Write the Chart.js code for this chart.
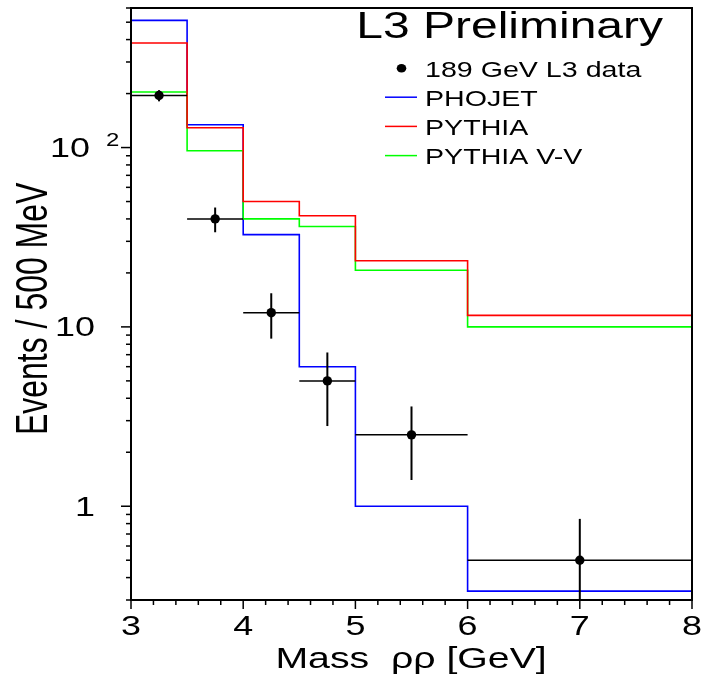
<!DOCTYPE html>
<html><head><meta charset="utf-8">
<script src="https://cdn.jsdelivr.net/npm/chart.js@4.4.0/dist/chart.umd.min.js"></script>
<style>html,body{margin:0;padding:0;background:#fff;} canvas{display:block;}</style>
</head><body>
<canvas id="c" width="701" height="680"></canvas>
<script>
// ---- data ----
const binEdges = [3, 3.5, 4, 4.5, 5, 6, 8];
const phojet   = [512, 134, 32.7, 6.0, 1.0, 0.336];
const pythia   = [383, 129, 50, 41.7, 23.4, 11.6];
const pythiaVV = [204, 96, 40, 36.3, 20.7, 10.0];
const dataX    = [3.25, 3.75, 4.25, 4.75, 5.5, 7];
const dataY    = [195, 40, 12, 5, 2.5, 0.5];
const dataErr  = [14, 6.3, 3.4, 2.2, 1.1, 0.35];
const dataLow  = [3, 3.5, 4, 4.5, 5, 6];
const dataHigh = [3.5, 4, 4.5, 5, 6, 8];
const xTickValues = [3, 4, 5, 6, 7, 8];
const xTickLabels = ['3', '4', '5', '6', '7', '8'];
const yTickValues = [1, 10, 100];
const yTickLabels = ['1', '10', '10^2'];
const seriesNames = ['189 GeV L3 data', 'PHOJET', 'PYTHIA', 'PYTHIA V-V'];
const titleText = 'L3 Preliminary';
const xTitle = 'Mass  ρρ [GeV]';
const yTitle = 'Events / 500 MeV';

const FONT = '"Liberation Sans", Arial, sans-serif';
const BLUE = '#0000ff', RED = '#ff0000', GREEN = '#00ff00';

function steps(vals) {
  const pts = vals.map((v, i) => ({x: binEdges[i], y: v}));
  pts.push({x: binEdges[binEdges.length - 1], y: vals[vals.length - 1]});
  return pts;
}

function drawStretched(ctx, text, x, y, align, sx) {
  ctx.save();
  ctx.translate(x, y);
  ctx.scale(sx, 1);
  ctx.textAlign = align;
  ctx.textBaseline = 'alphabetic';
  ctx.fillText(text, 0, 0);
  ctx.restore();
}
function fitScale(ctx, text, L, R) {
  const m = ctx.measureText(text);
  return (R - L) / (m.actualBoundingBoxLeft + m.actualBoundingBoxRight);
}
function drawFit(ctx, text, font, L, R, baseline) {
  ctx.save();
  ctx.font = font; ctx.textAlign = 'left'; ctx.textBaseline = 'alphabetic';
  const m = ctx.measureText(text);
  const sx = (R - L) / (m.actualBoundingBoxLeft + m.actualBoundingBoxRight);
  ctx.translate(L, baseline); ctx.scale(sx, 1);
  ctx.fillText(text, m.actualBoundingBoxLeft, 0);
  ctx.restore();
  return sx;
}

const errorBarPlugin = {
  id: 'errbars',
  beforeDatasetDraw(chart, args) {
    if (args.index !== 0) return;
    const ctx = chart.ctx, xs = chart.scales.x, ys = chart.scales.y, a = chart.chartArea;
    ctx.save();
    ctx.beginPath(); ctx.rect(a.left, a.top, a.right - a.left, a.bottom - a.top); ctx.clip();
    ctx.strokeStyle = '#000';
    for (let i = 0; i < dataX.length; i++) {
      const px = xs.getPixelForValue(dataX[i]);
      const py = ys.getPixelForValue(dataY[i]);
      const lo = Math.max(dataY[i] - dataErr[i], 0.01);
      ctx.lineWidth = 1.5;
      ctx.beginPath();
      ctx.moveTo(xs.getPixelForValue(dataLow[i]), py);
      ctx.lineTo(xs.getPixelForValue(dataHigh[i]), py);
      ctx.stroke();
      ctx.lineWidth = 2;
      ctx.beginPath();
      ctx.moveTo(px, ys.getPixelForValue(dataY[i] + dataErr[i]));
      ctx.lineTo(px, ys.getPixelForValue(lo));
      ctx.stroke();
    }
    ctx.restore();
  }
};

const framePlugin = {
  id: 'frame',
  afterDraw(chart) {
    const ctx = chart.ctx, xs = chart.scales.x, ys = chart.scales.y, a = chart.chartArea;
    ctx.save();
    ctx.strokeStyle = '#000'; ctx.fillStyle = '#000';
    ctx.lineWidth = 2;
    ctx.strokeRect(a.left, a.top, a.right - a.left, a.bottom - a.top);
    // x ticks
    ctx.lineWidth = 1.5;
    for (let i = 0; i <= 25; i++) {
      const v = 3 + i * 0.2;
      const px = xs.getPixelForValue(v);
      const len = (i % 5 === 0) ? 9 : 5;
      ctx.beginPath(); ctx.moveTo(px, a.bottom); ctx.lineTo(px, a.bottom + len); ctx.stroke();
    }
    // y ticks
    for (let e = -1; e <= 2; e++) {
      for (let m = 1; m <= 9; m++) {
        const v = m * Math.pow(10, e);
        if (v < ys.min - 1e-9 || v > ys.max + 1e-9) continue;
        const py = ys.getPixelForValue(v);
        const len = (m === 1) ? 10 : 5;
        ctx.beginPath(); ctx.moveTo(a.left - len, py); ctx.lineTo(a.left, py); ctx.stroke();
      }
    }
    // x tick labels
    ctx.font = '27px ' + FONT;
    xTickValues.forEach((v, i) => {
      drawStretched(ctx, xTickLabels[i], xs.getPixelForValue(v), a.bottom + 35, 'center', 1.33);
    });
    // y tick labels
    yTickValues.forEach((v, i) => {
      const py = ys.getPixelForValue(v);
      const lab = yTickLabels[i];
      ctx.font = '27px ' + FONT;
      if (lab.indexOf('^') >= 0) {
        const [base, sup] = lab.split('^');
        drawStretched(ctx, base, a.left - 41, py + 9.5, 'right', 1.33);
        ctx.font = '18px ' + FONT;
        drawStretched(ctx, sup, a.left - 25, py - 2, 'left', 1.33);
      } else {
        drawStretched(ctx, lab, a.left - 36, py + 9.5, 'right', 1.33);
      }
    });
    // axis titles
    drawFit(ctx, xTitle, '30px ' + FONT, 278, 545, 668);
    ctx.save();
    ctx.font = '32px ' + FONT; ctx.textAlign = 'left'; ctx.textBaseline = 'alphabetic';
    const m = ctx.measureText(yTitle);
    const capE = ctx.measureText('E').actualBoundingBoxAscent;
    const sx = (433 - 182) / (m.actualBoundingBoxLeft + m.actualBoundingBoxRight);
    const sy = 31 / capE;
    ctx.translate(47, 433); ctx.rotate(-Math.PI / 2); ctx.scale(sx, sy);
    ctx.fillText(yTitle, m.actualBoundingBoxLeft, 0);
    ctx.restore();
    // title
    drawFit(ctx, titleText, '36px ' + FONT, 359, 663, 38);
    // legend
    ctx.font = '22px ' + FONT;
    const lsx = fitScale(ctx, seriesNames[0], 426, 642);
    const colors = [null, BLUE, RED, GREEN];
    for (let i = 0; i < seriesNames.length; i++) {
      const base = 76.7 + i * 29.2;
      ctx.font = '22px ' + FONT;
      drawStretched(ctx, seriesNames[i], 425, base, 'left', lsx);
      if (i === 0) {
        ctx.beginPath(); ctx.ellipse(401.5, base - 8.5, 4.8, 4.3, 0, 0, Math.PI * 2); ctx.fill();
      } else {
        ctx.strokeStyle = colors[i]; ctx.lineWidth = 1.5;
        ctx.beginPath(); ctx.moveTo(385, base - 8.7); ctx.lineTo(417, base - 8.7); ctx.stroke();
      }
    }
    ctx.restore();
  }
};

const lineDs = (label, vals, color, order) => ({
  type: 'line', label, data: steps(vals), borderColor: color, backgroundColor: color,
  borderWidth: 1.6, stepped: 'before', pointRadius: 0, fill: false, order, tension: 0
});

new Chart(document.getElementById('c'), {
  type: 'line',
  data: {
    datasets: [
      {
        type: 'line', label: seriesNames[0],
        data: dataX.map((x, i) => ({x, y: dataY[i]})),
        showLine: false, pointRadius: 4.7, pointHoverRadius: 4.7, pointStyle: 'circle',
        backgroundColor: '#000', borderColor: '#000', borderWidth: 0, order: 0
      },
      lineDs(seriesNames[2], pythia, RED, 1),
      lineDs(seriesNames[3], pythiaVV, GREEN, 2),
      lineDs(seriesNames[1], phojet, BLUE, 3)
    ]
  },
  options: {
    responsive: false,
    animation: false,
    devicePixelRatio: 1,
    events: [],
    layout: {padding: {left: 0, top: 8, right: 9, bottom: 0}},
    plugins: {legend: {display: false}, tooltip: {enabled: false}, title: {display: false}},
    scales: {
      x: {
        type: 'linear', min: 3, max: 8, bounds: 'data',
        ticks: {display: false}, grid: {display: false}, border: {display: false},
        afterFit: s => { s.height = 80; }
      },
      y: {
        type: 'logarithmic', min: 0.3, max: 600, bounds: 'data',
        ticks: {display: false}, grid: {display: false}, border: {display: false},
        afterFit: s => { s.width = 131; }
      }
    }
  },
  plugins: [errorBarPlugin, framePlugin]
});
</script>
</body></html>
